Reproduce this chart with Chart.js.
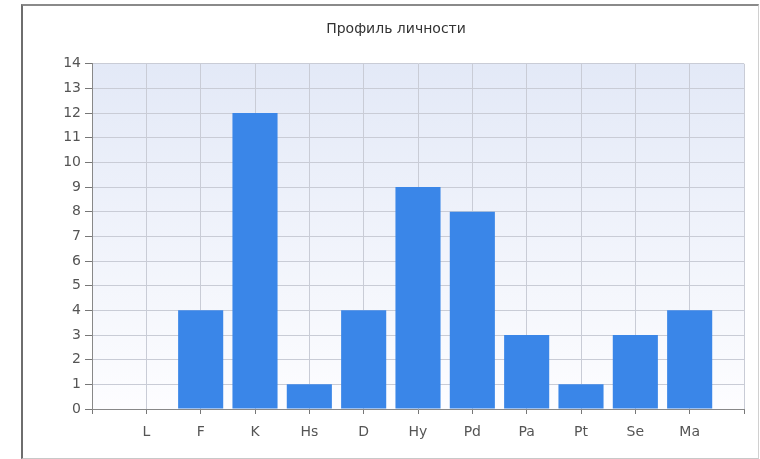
<!DOCTYPE html>
<html>
<head>
<meta charset="utf-8">
<script src="https://cdn.jsdelivr.net/npm/chart.js@4"></script>
<style>
  html, body { margin: 0; padding: 0; background: #fff; }
  #frame {
    position: absolute; left: 21px; top: 4px; width: 735px; height: 452px;
    border-left: 2px solid #6e6e6e; border-top: 2px solid #8a8a8a;
    border-right: 1px solid #d0d0d0; border-bottom: 1px solid #c8c8c8;
  }
  #wrap { position: absolute; left: 1px; top: 1px; width: 730px; height: 450px; }
</style>
</head>
<body>
<div id="frame"><div id="wrap"><canvas id="grafico"></canvas></div></div>
<script>
// ---- dados ----
const categorias = ['', 'L', 'F', 'K', 'Hs', 'D', 'Hy', 'Pd', 'Pa', 'Pt', 'Se', 'Ma', ''];
const valores = [null, 0, 4, 12, 1, 4, 9, 8, 3, 1, 3, 4, null];
const tituloGrafico = 'Профиль личности';

// fundo em degradê da área do gráfico
const fundoPlot = {
  id: 'fundoPlot',
  beforeDraw(chart) {
    const { ctx, chartArea: a } = chart;
    const g = ctx.createLinearGradient(0, a.top, 0, a.bottom);
    g.addColorStop(0, '#e3e9f7');
    g.addColorStop(1, '#fdfdff');
    ctx.save();
    ctx.fillStyle = g;
    ctx.fillRect(a.left, a.top, a.right - a.left, a.bottom - a.top);
    ctx.restore();
  }
};

const fonte = 'DejaVu Sans';

new Chart(document.getElementById('grafico'), {
  type: 'bar',
  data: {
    labels: categorias,
    datasets: [{
      data: valores,
      backgroundColor: '#3a86e8',
      borderWidth: 0,
      barPercentage: 0.83,
      categoryPercentage: 1
    }]
  },
  options: {
    responsive: true,
    maintainAspectRatio: false,
    animation: false,
    layout: { padding: { left: 14, right: 0, top: 0, bottom: 0 } },
    plugins: {
      legend: { display: false },
      tooltip: { enabled: false },
      title: {
        display: true,
        text: tituloGrafico,
        color: '#333',
        font: { family: fonte, size: 14, weight: 'normal' },
        padding: { top: 14, bottom: 26 }
      }
    },
    scales: {
      x: {
        offset: false,
        afterFit(s) { s.height = 48; },
        grid: { offset: false, color: '#c9ccd6', tickColor: '#777', tickLength: 5 },
        border: { color: '#888' },
        ticks: {
          color: '#555', padding: 10, autoSkip: false, maxRotation: 0,
          font: { family: fonte, size: 14 }
        }
      },
      y: {
        min: 0, max: 14,
        afterFit(s) { s.width = 54; },
        grid: { color: '#c9ccd6', tickColor: '#777', tickLength: 7 },
        border: { color: '#888' },
        ticks: {
          stepSize: 1, color: '#555', padding: 4,
          font: { family: fonte, size: 14 }
        }
      }
    }
  },
  plugins: [fundoPlot]
});
</script>
</body>
</html>
